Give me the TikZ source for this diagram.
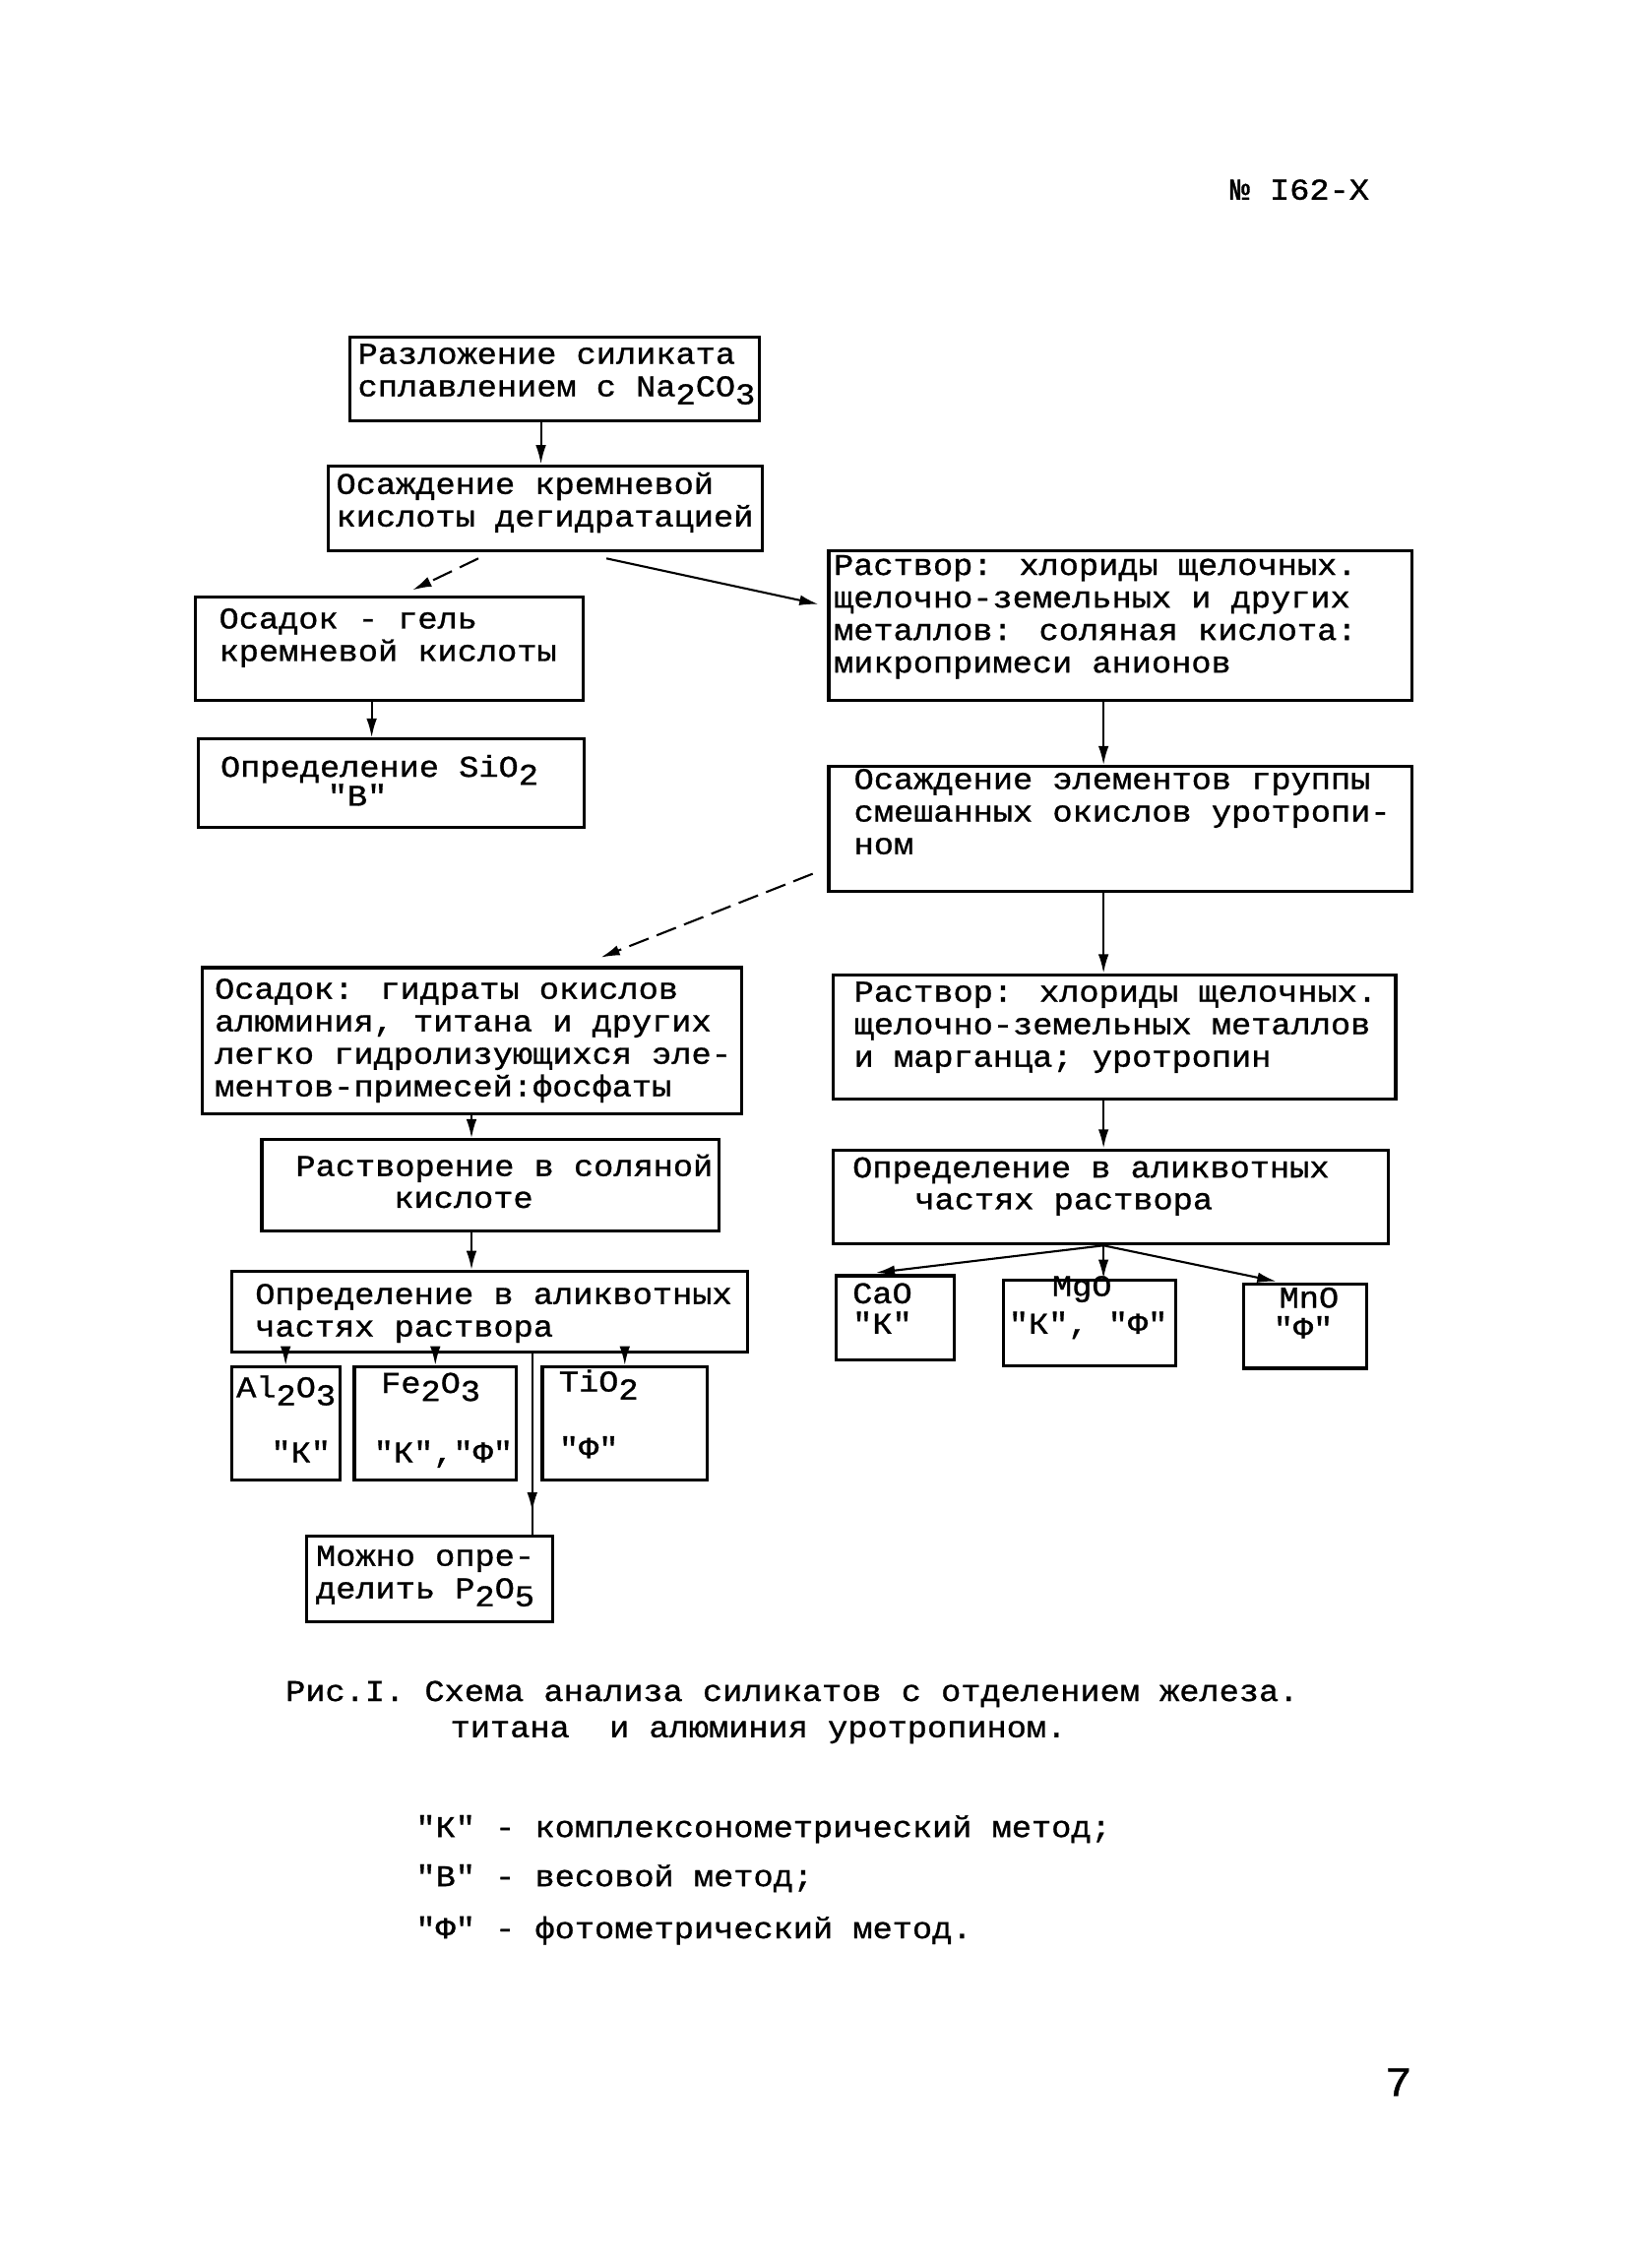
\documentclass[tikz,border=0pt]{standalone}
\usepackage{fontspec}
\setmainfont{Liberation Mono}[Ligatures=TeXOff,FakeStretch=1.1,FakeBold=1]
\usetikzlibrary{fit,calc,arrows.meta}
\newcommand\tf{\fontsize{8.7}{9.4}\selectfont}
\newcommand\R{\rule{0pt}{8pt}}
\newcommand\sub[1]{\raisebox{-0.5ex}{#1}}
\tikzset{
 box/.style={draw, line width=0.9pt, inner sep=0pt},
 txt/.style={anchor=north west, inner sep=0pt, align=left, font=\tf, yshift=8pt},
 ln/.style={anchor=base west, inner sep=0pt, font=\tf},
 arr/.style={line width=0.6pt, -{Latex[length=5.5pt,width=3pt]}},
 dsh/.style={arr, dash pattern=on 6pt off 2.5pt},
}
\begin{document}
\begin{tikzpicture}[x=0.014693cm, y=-0.014693cm]
\useasboundingbox (0,0) rectangle (1125,1568);

\node[ln] (hdr) at (850,138) {№ I62-Х};

% boxes
\node[box, fit={(242,233) (525,291)}] (A) {};
\node[txt] (At) at (247,251) {\R Разложение силиката\\сплавлением с Na\sub{2}CO\sub{3}};

\node[box, fit={(227,322) (527,381)}] (B) {};
\node[txt] (Bt) at (232,341) {\R Осаждение кремневой\\кислоты дегидратацией};

\node[box, fit={(135,413) (403,484)}] (C) {};
\node[txt] (Ct) at (151,434) {\R Осадок - гель\\кремневой кислоты};

\node[box, fit={(137,511) (404,572)}] (D) {};
\node[ln] (Dt1) at (152,537) {Определение SiO\sub{2}};
\node[ln] (Dt2) at (226,557) {"В"};

\node[box, fit={(573,381) (976,484)}] (E) {};
\node[txt] (Et) at (576,397) {\R Раствор: хлориды щелочных.\\щелочно-земельных и других\\металлов: соляная кислота:\\микропримеси анионов};

\node[box, fit={(573,530) (976,616)}] (F) {};
\node[txt] (Ft) at (590,545) {\R Осаждение элементов группы\\смешанных окислов уротропи-\\ном};

\node[box, fit={(140,669) (513,770)}] (G) {};
\node[txt] (Gt) at (148,690) {\R Осадок: гидраты окислов\\алюминия, титана и других\\легко гидролизующихся эле-\\ментов-примесей:фосфаты};

\node[box, fit={(576,674) (965,760)}] (H) {};
\node[txt] (Ht) at (590,692) {\R Раствор: хлориды щелочных.\\щелочно-земельных металлов\\и марганца; уротропин};

\node[box, fit={(181,788) (497,851)}] (I) {};
\node[ln] (It1) at (204,813) {Растворение в соляной};
\node[ln] (It2) at (272,835) {кислоте};

\node[box, fit={(576,795) (960,860)}] (J) {};
\node[ln] (Jt1) at (589,814) {Определение в аликвотных};
\node[ln] (Jt2) at (632,836) {частях раствора};

\node[box, fit={(160,879) (517,935)}] (K) {};
\node[txt] (Kt) at (176,901) {\R Определение в аликвотных\\частях раствора};

\node[box, fit={(160,945) (235,1023)}] (Al) {};
\node[ln] (Alt1) at (163,966) {Al\sub{2}O\sub{3}};
\node[ln] (Alt2) at (187,1011) {"К"};

\node[box, fit={(245,945) (357,1023)}] (Fe) {};
\node[ln] (Fet1) at (263,963) {Fe\sub{2}O\sub{3}};
\node[ln] (Fet2) at (258,1011) {"К","Ф"};

\node[box, fit={(375,945) (489,1023)}] (Ti) {};
\node[ln] (Tit1) at (386,962) {TiO\sub{2}};
\node[ln] (Tit2) at (386,1008) {"Ф"};

\node[box, fit={(212,1062) (382,1121)}] (P) {};
\node[txt] (Pt) at (218,1082) {\R Можно опре-\\делить P\sub{2}O\sub{5}};

\node[box, fit={(578,882) (660,940)}] (Ca) {};
\node[ln] (Cat1) at (589,901) {CaO};
\node[ln] (Cat2) at (589,922) {"К"};

\node[box, fit={(694,885) (813,944)}] (Mg) {};
\node[ln] (Mgt1) at (727,896) {MgO};
\node[ln] (Mgt2) at (697,922) {"К", "Ф"};

\node[box, fit={(860,888) (945,946)}] (Mn) {};
\node[ln] (Mnt1) at (884,904) {MnO};
\node[ln] (Mnt2) at (880,925) {"Ф"};

% connectors
\coordinate (cA) at (374,0);
\coordinate (cC) at (257,0);
\coordinate (cR) at (763,0);
\coordinate (cL) at (326,0);
\coordinate (cP) at (368,0);
\draw[arr] (A.south -| cA) -- (B.north -| cA);
\draw[dsh] ($(B.south west)!0.347!(B.south east)+(0,4)$) -- ($(C.north west)!0.56!(C.north east)+(0,-4)$);
\draw[arr] ($(B.south west)!0.64!(B.south east)+(0,4)$) -- ($(E.north west)!0.36!(E.south west)+(-6,0)$);
\draw[arr] (C.south -| cC) -- (D.north -| cC);
\draw[arr] (E.south -| cR) -- (F.north -| cR);
\draw[dsh] ($(F.south west)+(-10,-13)$) -- ($(G.north west)!0.737!(G.north east)+(0,-6)$);
\draw[arr] (F.south -| cR) -- (H.north -| cR);
\draw[arr] (H.south -| cR) -- (J.north -| cR);
\draw[arr] (G.south -| cL) -- (I.north -| cL);
\draw[arr] (I.south -| cL) -- (K.north -| cL);
\draw[arr] (K.south -| Al.north) -- (Al.north);
\draw[arr] (K.south -| Fe.north) -- (Fe.north);
\draw[arr] (K.south -| Ti.north) -- (Ti.north);
\draw[line width=0.6pt] (K.south -| cP) -- (P.north -| cP);
\draw[arr] (K.south -| cP) -- ($(P.north -| cP)+(0,-16)$);
\coordinate (jf) at ($(J.south west)!0.487!(J.south east)$);
\draw[arr] (jf) -- ($(Ca.north west)!0.34!(Ca.north east)+(0,-1)$);
\draw[arr] (jf) -- (Mg.north -| jf);
\draw[arr] (jf) -- ($(Mn.north west)!0.27!(Mn.north east)+(0,-1)$);

% caption and legend
\node[ln] (cap1) at (197,1176) {Рис.I. Схема анализа силикатов с отделением железа.};
\node[ln] (cap2) at (311,1201) {титана~~и алюминия уротропином.};
\node[ln] (leg1) at (287,1270) {"К" - комплексонометрический метод;};
\node[ln] (leg2) at (287,1304) {"В" - весовой метод;};
\node[ln] (leg3) at (287,1340) {"Ф" - фотометрический метод.};
\node[ln, font=\fontsize{12}{12}\selectfont] (pg) at (957,1449) {7};
\end{tikzpicture}
\end{document}
